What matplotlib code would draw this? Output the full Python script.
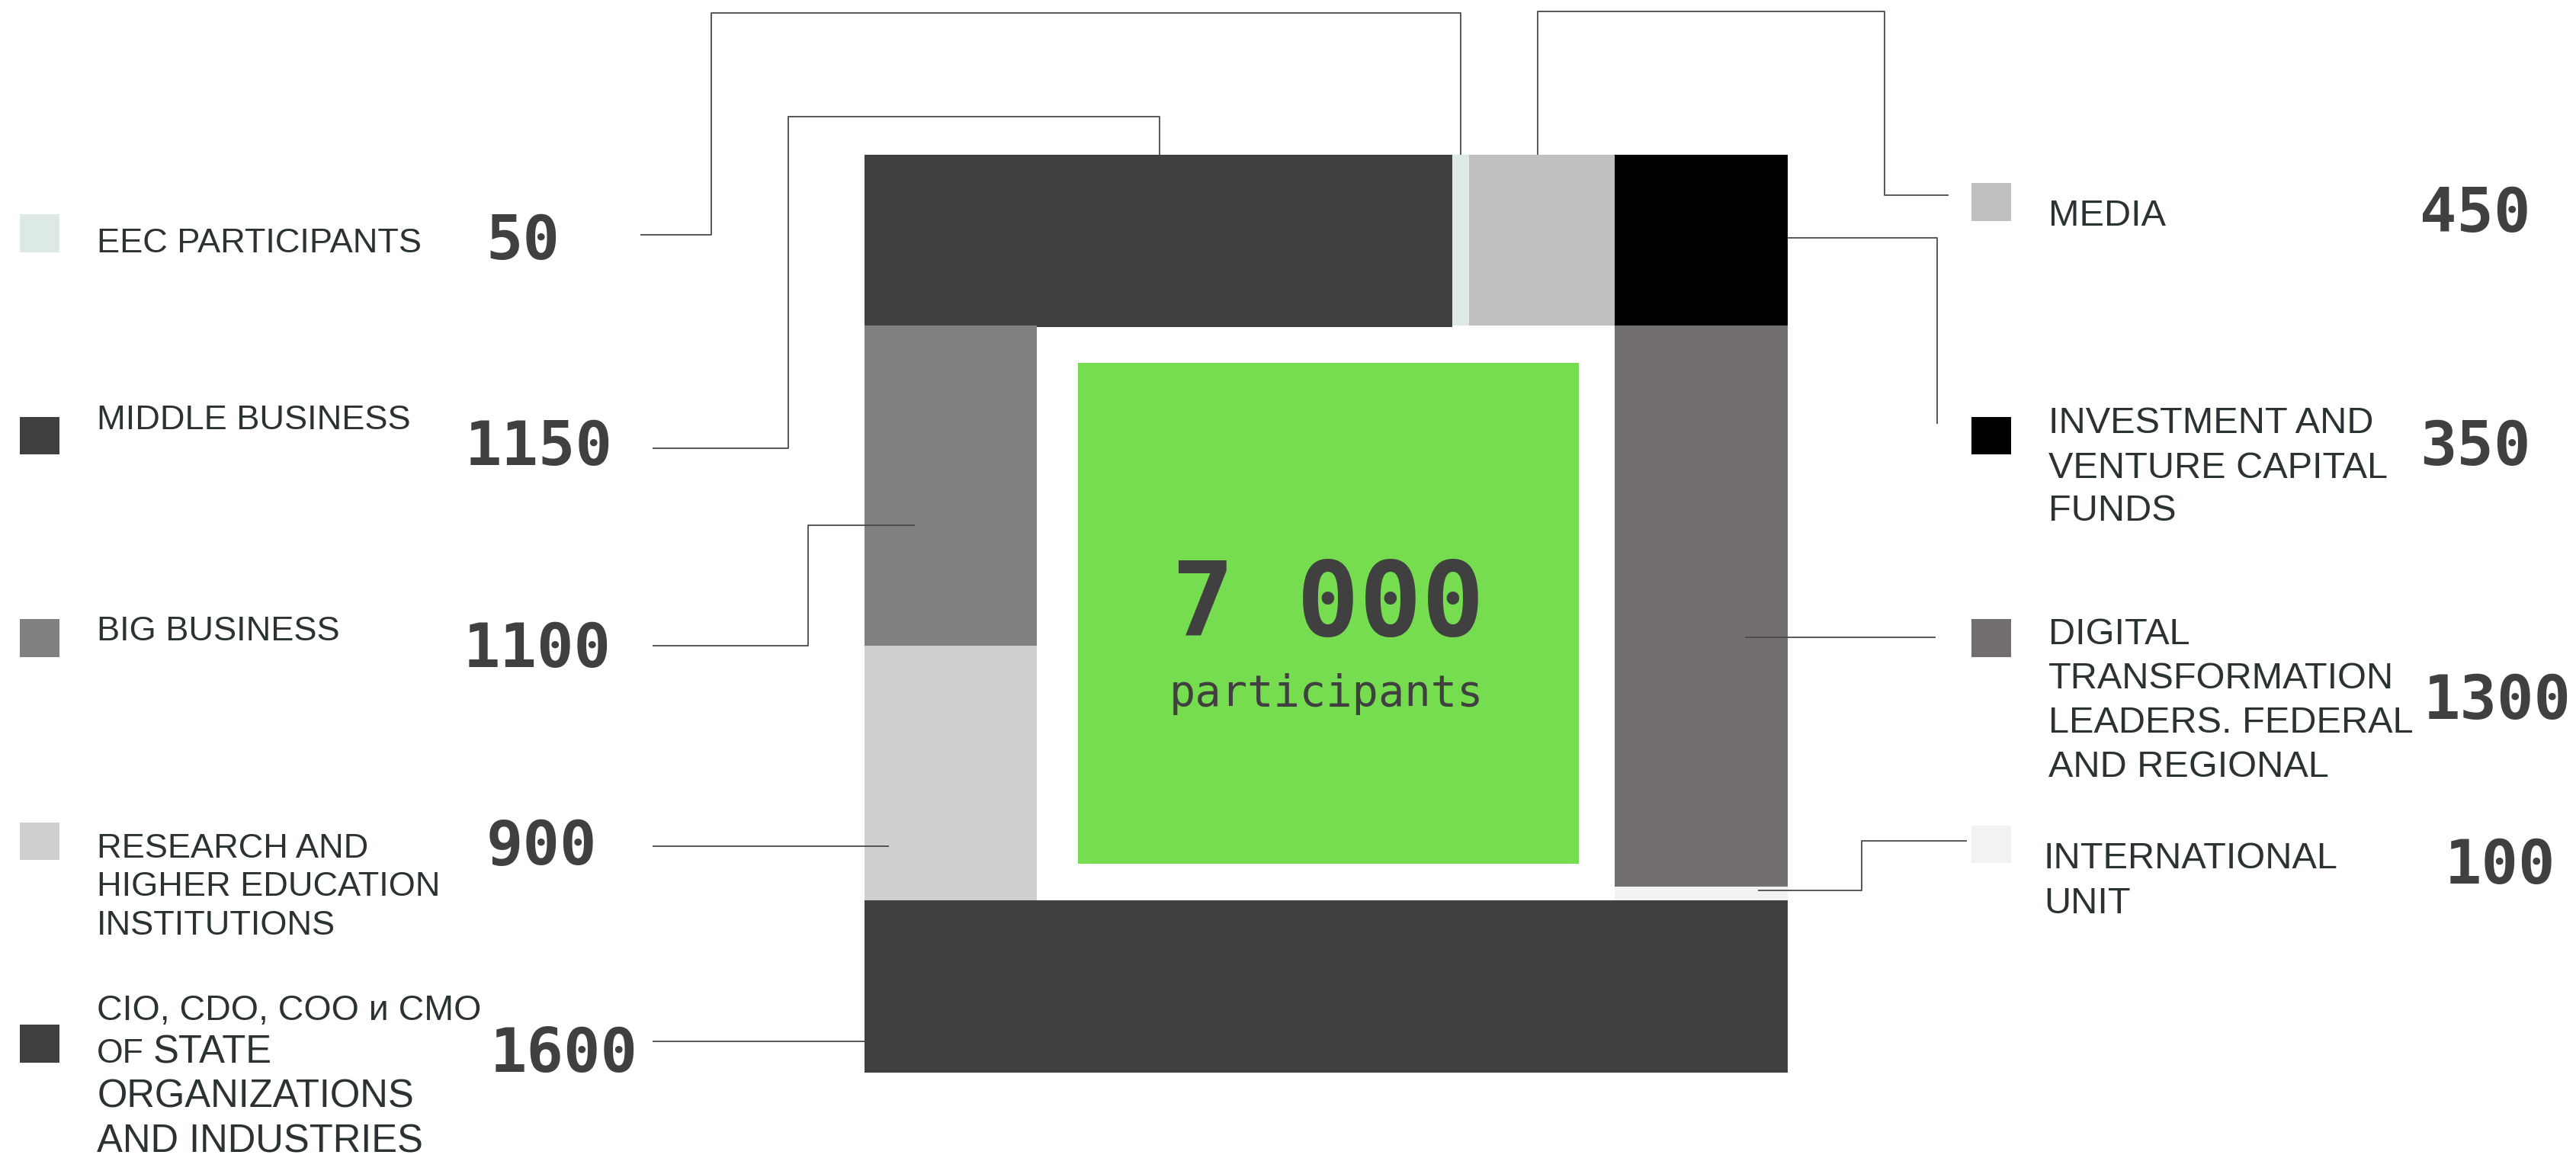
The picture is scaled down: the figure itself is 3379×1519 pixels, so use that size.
import matplotlib.pyplot as plt
from matplotlib.patches import Rectangle

# ---- data ----
left_labels = [
    ["EEC PARTICIPANTS"],
    ["MIDDLE BUSINESS"],
    ["BIG BUSINESS"],
    ["RESEARCH AND", "HIGHER EDUCATION", "INSTITUTIONS"],
    ["CIO, CDO, COO и CMO", "OF STATE", "ORGANIZATIONS", "AND INDUSTRIES"],
]
left_values = [50, 1150, 1100, 900, 1600]
left_colors = ["#dde9e6", "#404040", "#808080", "#d0cfcf", "#404040"]

right_labels = [
    ["MEDIA"],
    ["INVESTMENT AND", "VENTURE CAPITAL", "FUNDS"],
    ["DIGITAL", "TRANSFORMATION", "LEADERS. FEDERAL", "AND REGIONAL"],
    ["INTERNATIONAL", "UNIT"],
]
right_values = [450, 350, 1300, 100]
right_colors = ["#c0c0c0", "#000000", "#736f6e", "#f2f2f2"]

total = sum(left_values) + sum(right_values)

# ---- layout (canvas units, 1568 x 705, y down) ----
# ring cells: x, y, w, h
left_cells = [(884, 94, 10, 104), (526, 94, 358, 105), (526, 198, 105, 195),
              (526, 393, 105, 157), (526, 548, 562, 105)]
right_cells = [(894, 94, 89, 104), (983, 94, 105, 104), (983, 198, 105, 342),
               (983, 540, 105, 8)]
green_box = (656, 221, 305, 305)

left_box_y = [130.5, 253.7, 377, 500.7, 624]
right_box_y = [111.4, 253.7, 377, 502.6]
left_text_base = [[153.4], [261.4], [390], [522, 545.5, 569], [621, 647, 674, 701.5]]
right_text_base = [[137.4], [263.7, 290.9, 317], [392, 419, 446, 473], [528.5, 556]]
left_num_x = [296, 283, 282, 296, 298]
left_num_base = [158, 283, 406, 526.5, 652.5]
right_num_x = [1473, 1473, 1475, 1488]
right_num_base = [141, 283, 437.5, 538]

left_leaders = [
    [(390, 143), (433, 143), (433, 8), (889, 8), (889, 94)],
    [(397, 273), (480, 273), (480, 71), (706, 71), (706, 94)],
    [(397, 393), (492, 393), (492, 320), (557, 320)],
    [(397, 515), (541, 515)],
    [(397, 634), (526, 634)],
]
right_leaders = [
    [(936, 94), (936, 7), (1147, 7), (1147, 119), (1186, 119)],
    [(1088, 145), (1179, 145), (1179, 258)],
    [(1062, 388), (1178, 388)],
    [(1070, 542), (1133, 542), (1133, 512), (1197, 512)],
]

label_color = "#2b3234"
num_color = "#404040"
line_color = "#4a4a4a"
label_font = "Liberation Sans"
num_font = "DejaVu Sans Mono"
num_size = 58

fig = plt.figure(figsize=(33.79, 15.19), dpi=100)
ax = fig.add_axes([0, 0, 1, 1])
ax.set_xlim(0, 1568)
ax.set_ylim(705, 0)
ax.axis("off")

# ring
for cells, colors in ((left_cells, left_colors), (right_cells, right_colors)):
    for (x, y, w, h), c in zip(cells, colors):
        ax.add_patch(Rectangle((x, y), w, h, facecolor=c, edgecolor="none"))

gx, gy, gw, gh = green_box
ax.add_patch(Rectangle((gx, gy), gw, gh, facecolor="#77dd50", edgecolor="none"))
ax.text(gx + gw / 2, 387, f"{total:,}".replace(",", " "), fontsize=98,
        fontweight="bold", family=num_font, color=num_color,
        ha="center", va="baseline")
ax.text(gx + gw / 2 - 1, 430, "participants", fontsize=41, family=num_font,
        color=num_color, ha="center", va="baseline")

# leader lines
for pts in left_leaders + right_leaders:
    xs, ys = zip(*pts)
    ax.plot(xs, ys, color=line_color, lw=1.3, solid_capstyle="butt")

# left legend
for i, lines in enumerate(left_labels):
    ax.add_patch(Rectangle((12, left_box_y[i]), 24, 23, facecolor=left_colors[i],
                           edgecolor="none"))
    for j, line in enumerate(lines):
        base = left_text_base[i][j]
        if i == 4 and j == 1:
            ax.text(59, base, "OF", fontsize=32, family=label_font,
                    color=label_color, va="baseline")
            ax.text(93, base, "STATE", fontsize=36.5, family=label_font,
                    color=label_color, va="baseline")
            continue
        size = 36.5 if (i == 4 and j > 1) else (33.5 if i == 4 else 32.5)
        ax.text(59, base, line, fontsize=size, family=label_font,
                color=label_color, va="baseline")
    ax.text(left_num_x[i], left_num_base[i], str(left_values[i]), fontsize=num_size,
            fontweight="bold", family=num_font, color=num_color, va="baseline")

# right legend
for i, lines in enumerate(right_labels):
    ax.add_patch(Rectangle((1200, right_box_y[i]), 24, 23, facecolor=right_colors[i],
                           edgecolor="none"))
    tx = 1244 if i == 3 else 1247
    for j, line in enumerate(lines):
        ax.text(tx, right_text_base[i][j], line, fontsize=35, family=label_font,
                color=label_color, va="baseline")
    ax.text(right_num_x[i], right_num_base[i], str(right_values[i]), fontsize=num_size,
            fontweight="bold", family=num_font, color=num_color, va="baseline")

fig.savefig("out.png", dpi=100, facecolor="white")
